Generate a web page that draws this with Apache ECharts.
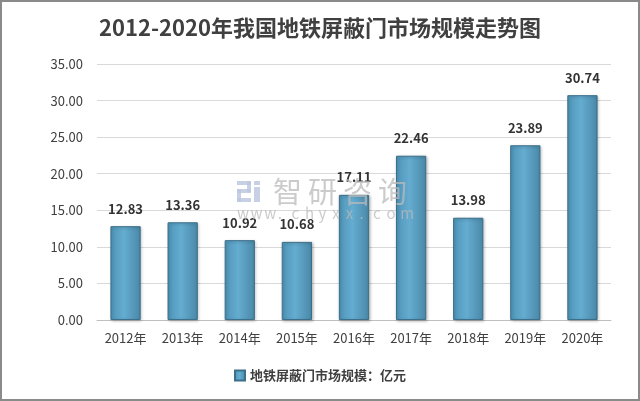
<!DOCTYPE html>
<html><head><meta charset="utf-8">
<script src="https://cdn.jsdelivr.net/npm/echarts@6/dist/echarts.min.js"></script>
<style>
html,body{margin:0;padding:0;background:#fff;}
#c{width:640px;height:401px;box-sizing:border-box;border:2px solid #8a8a8a;}
</style></head>
<body><div id="c"></div>
<script>
const categories = ['2012年','2013年','2014年','2015年','2016年','2017年','2018年','2019年','2020年'];
const values = [12.83, 13.36, 10.92, 10.68, 17.11, 22.46, 13.98, 23.89, 30.74];
const seriesName = '地铁屏蔽门市场规模：亿元';
const titleText = '2012-2020年我国地铁屏蔽门市场规模走势图';
const yTicks = {min: 0, max: 35, interval: 5};
const wmChars = ['智','研','咨','询'];
const wmUrl = 'www.chyxx.com';

const chart = echarts.init(document.getElementById('c'));
const font = '"Noto Sans CJK SC","Noto Sans",sans-serif';
const barColor = new echarts.graphic.LinearGradient(0,0,1,0,[
  {offset:0,color:'#4f95b8'},{offset:0.45,color:'#64acd0'},{offset:1,color:'#4a88a8'}]);
const wmFill = 'rgba(185,185,185,0.75)';
const logoFill = 'rgba(190,200,225,0.85)';
const graphics = [];
wmChars.forEach((ch,i)=>graphics.push({type:'text',z:100,left:271+i*35,top:175,
  style:{text:ch,fontSize:29,fill:wmFill,fontFamily:font}}));
wmUrl.split('').forEach((ch,i)=>graphics.push({type:'text',z:100,left:235+i*13.6,top:204,
  style:{text:ch,fontSize:15,fill:wmFill,fontFamily:font}}));
// logo
[[235,179,14,4],[245,179,4,11],[235,187,14,4],[235,187,4,13],[235,196,14,4],[252,179,6,4],[252,185,6,15]]
  .forEach(r=>graphics.push({type:'rect',z:100,shape:{x:r[0],y:r[1],width:r[2],height:r[3]},style:{fill:logoFill}}));

chart.setOption({
  animation:false,
  textStyle:{fontFamily:font},
  title:{text:titleText,left:'center',top:10,textStyle:{fontSize:22,fontWeight:'bold',color:'#404040',fontFamily:font}},
  grid:{left:95,right:27,top:62,bottom:79},
  legend:{bottom:12,left:'center',itemWidth:10,itemHeight:10,icon:'rect',
    textStyle:{fontSize:13,fontWeight:'bold',color:'#404040'}},
  graphic:graphics,
  xAxis:{type:'category',data:categories,
    axisLine:{lineStyle:{color:'#bfbfbf'}},axisTick:{show:false},
    axisLabel:{fontSize:13,color:'#404040',margin:12}},
  yAxis:{type:'value',min:yTicks.min,max:yTicks.max,interval:yTicks.interval,
    axisLine:{show:false},axisTick:{show:false},
    splitLine:{lineStyle:{color:'#d9d9d9'}},
    axisLabel:{fontSize:13,color:'#404040',margin:14,formatter:v=>v.toFixed(2)}},
  series:[{name:seriesName,type:'bar',data:values,barWidth:'53%',
    itemStyle:{color:barColor,borderColor:'#3b6f8a',borderWidth:1,shadowColor:'rgba(0,0,0,0.25)',shadowBlur:3,shadowOffsetX:1,shadowOffsetY:1},
    label:{show:true,position:'top',distance:11,fontSize:13,fontWeight:'bold',color:'#333',formatter:p=>p.value.toFixed(2)}}]
});
</script></body></html>
